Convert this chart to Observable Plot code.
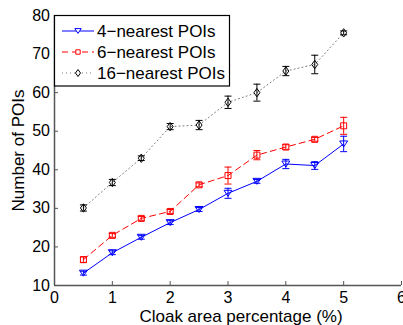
<!DOCTYPE html>
<html><head><meta charset="utf-8">
<script src="https://cdn.jsdelivr.net/npm/d3@7"></script>
<script src="https://cdn.jsdelivr.net/npm/@observablehq/plot@0.6"></script>
<style>body{margin:0;background:#fff}</style>
</head><body><div id="chart"></div>
<script>
const xs = [0.5,1,1.5,2,2.5,3,3.5,4,4.5,5];
const poi4 = [13.2,18.5,22.5,26.3,29.7,33.9,37.0,41.5,41.1,46.7];
const err4 = [0.5,0.5,0.5,0.5,0.5,1.3,0.5,1.2,1.0,2.0];
const poi6 = [16.7,23.0,27.4,29.2,36.1,38.5,43.8,45.9,47.9,51.4];
const err6 = [0.7,0.5,0.5,0.5,0.5,2.2,1.2,0.6,0.5,2.2];
const poi16 = [30.1,36.7,43.0,51.2,51.6,57.5,60.0,65.6,67.3,75.5];
const err16 = [0.8,0.8,0.6,0.8,1.2,1.6,2.2,1.2,2.4,0.5];
const xTicks = [0,1,2,3,4,5,6];
const yTicks = [10,20,30,40,50,60,70,80];
const seriesNames = ["4\u2212nearest POIs","6\u2212nearest POIs","16\u2212nearest POIs"];
const xLabel = "Cloak area percentage (%)";
const yLabel = "Number of POIs";

const FONT = "Liberation Sans, Arial, Helvetica, sans-serif";
const cap = {draw(ctx, size){const w=Math.sqrt(size/Math.PI); ctx.moveTo(-w,0); ctx.lineTo(w,0);}};
const tri = {draw(ctx, size){const r=Math.sqrt(size/Math.PI); ctx.moveTo(-r*1.33,-r); ctx.lineTo(r*1.33,-r); ctx.lineTo(0,r); ctx.closePath();}};
const sq = {draw(ctx, size){const r=Math.sqrt(size/Math.PI); ctx.rect(-r,-r,2*r,2*r);}};
const dia = {draw(ctx, size){const r=Math.sqrt(size/Math.PI); ctx.moveTo(0,-r*1.4); ctx.lineTo(r,0); ctx.lineTo(0,r*1.4); ctx.lineTo(-r,0); ctx.closePath();}};
const series = [
  {name: seriesNames[0], v: poi4, e: err4, color: "#0000ff", line: "#0000ff", dash: "none", symbol: tri, r: 3, lr: 2.4},
  {name: seriesNames[1], v: poi6, e: err6, color: "#ff0000", line: "#ff0000", dash: "6,4", symbol: sq, r: 3, lr: 2.2},
  {name: seriesNames[2], v: poi16, e: err16, color: "#000000", line: "#777", dash: "1,3", symbol: dia, r: 3, lr: 2.5}
];
const marks = [];
for (const s of series) {
  const data = xs.map((x,i)=>({x, y: s.v[i], lo: s.v[i]-s.e[i], hi: s.v[i]+s.e[i]}));
  marks.push(Plot.line(data, {x:"x", y:"y", stroke: s.line, strokeWidth: 1, strokeDasharray: s.dash}));
  marks.push(Plot.ruleX(data, {x:"x", y1:"lo", y2:"hi", stroke: s.color, strokeWidth: 1}));
  marks.push(Plot.dot(data, {x:"x", y:"lo", symbol: cap, r: 3.5, stroke: s.color, strokeWidth: 1}));
  marks.push(Plot.dot(data, {x:"x", y:"hi", symbol: cap, r: 3.5, stroke: s.color, strokeWidth: 1}));
  marks.push(Plot.dot(data, {x:"x", y:"y", symbol: s.symbol, r: s.r, stroke: s.color, fill: "none", strokeWidth: 1}));
}

const chart = Plot.plot({
  width: 403, height: 325,
  marginLeft: 54, marginRight: 2, marginTop: 15, marginBottom: 40,
  style: {fontFamily: FONT, fontSize: "16px", color: "#000", background: "#fff"},
  x: {domain: [0,6]},
  y: {domain: [10,80]},
  marks: [
    Plot.axisX(xTicks, {tickSize: 0, tickPadding: 6, fontSize: 16, label: null}),
    Plot.axisX(xTicks, {tickSize: -4, text: null, label: null, stroke: "#555"}),
    Plot.axisY(yTicks, {tickSize: 0, tickPadding: 4.5, fontSize: 16, label: null}),
    Plot.axisY(yTicks, {tickSize: -4, text: null, label: null, stroke: "#555"}),
    Plot.text([xLabel], {frameAnchor: "bottom", dx: 13, dy: 31.5, fontSize: 17, textAnchor: "middle", lineAnchor: "middle", fill: "#000"}),
    Plot.text([yLabel], {frameAnchor: "left", dx: -36, rotate: -90, fontSize: 17, textAnchor: "middle", lineAnchor: "middle", fill: "#000"}),
    Plot.ruleX([0], {stroke: "#555", strokeWidth: 1.5}),
    Plot.ruleY([10], {stroke: "#555", strokeWidth: 1.5}),
    ...marks
  ]
});
document.getElementById("chart").appendChild(chart);

// Legend inside plot frame
const svg = d3.select(chart);
const g = svg.append("g")
  .attr("font-family", FONT).attr("font-size", 17)
  .attr("text-anchor", "start");
g.append("rect").attr("x", 54.5).attr("y", 15.5).attr("width", 175).attr("height", 70.5)
  .attr("fill", "#fff").attr("stroke", "#000").attr("stroke-width", 1.2);
series.forEach((s, i) => {
  const cy = 31 + i * 21;
  g.append("path").attr("d", `M62,${cy}H94`).attr("fill", "none")
    .attr("stroke", s.line).attr("stroke-width", 1).attr("stroke-dasharray", s.dash);
  const p = d3.path(); s.symbol.draw(p, Math.PI * s.lr * s.lr);
  g.append("path").attr("d", p.toString())
    .attr("transform", `translate(78,${cy})`)
    .attr("fill", "#fff").attr("stroke", s.color).attr("stroke-width", 1);
  g.append("text").attr("x", 97).attr("y", cy).attr("dy", "0.35em")
    .attr("text-anchor", "start").attr("fill", "#000").text(s.name);
});
</script></body></html>
